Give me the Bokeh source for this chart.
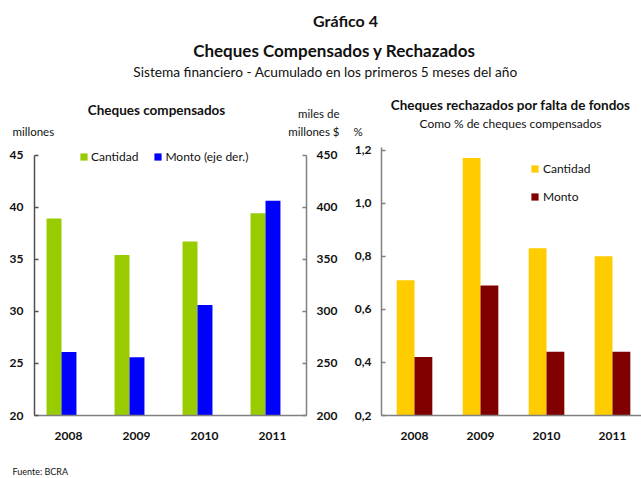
from bokeh.plotting import figure
from bokeh.models import Range1d, LinearAxis, Label, Legend, LegendItem, FixedTicker, ColumnDataSource
from bokeh.layouts import column, row
from bokeh.transform import dodge
from bokeh.embed import file_html
from bokeh.resources import INLINE

FONT = "Lato"

# ---- data ----
years = ["2008", "2009", "2010", "2011"]
cantidad_millones = [38.9, 35.4, 36.7, 39.4]        # left axis, millones
monto_miles_mill = [261, 256, 306, 406]             # right axis, miles de millones $
rech_cantidad_pct = [0.71, 1.17, 0.83, 0.80]
rech_monto_pct = [0.42, 0.69, 0.44, 0.44]

left_ticks = [20, 25, 30, 35, 40, 45]
right_ticks = [200, 250, 300, 350, 400, 450]
pct_ticks = [0.2, 0.4, 0.6, 0.8, 1.0, 1.2]

GREEN = "#99CC00"
BLUE = "#0000FF"
YELLOW = "#FFCC00"
MAROON = "#800000"
AXIS_DARK = "#505050"
AXIS_GRAY = "#808080"
TXT = "#111111"

xpos = [i + 0.5 for i in range(len(years))]
year_labels = {x: y for x, y in zip(xpos, years)}


def style_axis(ax, color, tick_in=4):
    ax.axis_line_color = color
    ax.axis_line_width = 1.5
    ax.major_tick_line_color = color
    ax.major_tick_line_width = 1.5
    ax.major_tick_in = tick_in
    ax.major_tick_out = 0
    ax.minor_tick_line_color = None
    ax.major_label_text_font = FONT
    ax.major_label_text_font_style = "bold"
    ax.major_label_text_font_size = "12px"
    ax.major_label_text_color = TXT


def base_fig(width, height, x_end, y_start, y_end, bl, br, bt, bb):
    p = figure(width=width, height=height, x_range=Range1d(0, x_end),
               y_range=Range1d(y_start, y_end), output_backend="svg",
               toolbar_location=None, min_border_left=bl, min_border_right=br,
               min_border_top=bt, min_border_bottom=bb)
    p.outline_line_color = None
    p.grid.visible = False
    p.background_fill_color = "white"
    p.border_fill_color = "white"
    return p


def text_fig(width, height):
    f = figure(width=width, height=height, x_range=Range1d(0, width),
               y_range=Range1d(height, 0), output_backend="svg",
               toolbar_location=None, min_border=0)
    f.axis.visible = False
    f.grid.visible = False
    f.outline_line_color = None
    return f


def put(f, x, y, text, size, bold=False, align="left"):
    f.add_layout(Label(x=x, y=y, text=text, text_font=FONT, text_font_size=size,
                       text_font_style="bold" if bold else "normal",
                       text_align=align, text_baseline="middle", text_color=TXT))

# ---- header (titles and unit labels) ----
HDR_H = 143
hdr = text_fig(641, HDR_H)
put(hdr, 345, 20, "Gráfico 4", "16px", True, "center")
put(hdr, 334, 50, "Cheques Compensados y Rechazados", "17px", True, "center")
put(hdr, 325, 71, "Sistema financiero - Acumulado en los primeros 5 meses del año", "13.7px", False, "center")
put(hdr, 156, 109, "Cheques compensados", "13.5px", True, "center")
put(hdr, 12, 131, "millones", "11.5px")
put(hdr, 339, 113, "miles de", "11.5px", align="right")
put(hdr, 339, 131, "millones $", "11.5px", align="right")
put(hdr, 353, 131, "%", "11.5px")
put(hdr, 510, 104, "Cheques rechazados por falta de fondos", "13.5px", True, "center")
put(hdr, 510, 123, "Como % de cheques compensados", "12px", False, "center")

ROW_H = 320
# ---- left panel: cheques compensados ----
p1_scale = 262.4 / 25.0
p1_fh = ROW_H - 46
p1 = base_fig(348, ROW_H, 4, 20, 20 + p1_fh / p1_scale, 34, 42, 0, 46)
p1.extra_y_ranges = {"monto": Range1d(200, 200 + 10 * p1_fh / p1_scale)}
src1 = ColumnDataSource(dict(x=xpos, cant=cantidad_millones, monto=monto_miles_mill))
# bar pair sits slightly left of the category centre, as in the original
r_c = p1.vbar(x=dodge("x", -0.213, range=p1.x_range), top="cant", bottom=20, width=0.22,
              source=src1, color=GREEN, line_color=None)
r_m = p1.vbar(x=dodge("x", 0.007, range=p1.x_range), top="monto", bottom=200, width=0.22,
              source=src1, color=BLUE, line_color=None, y_range_name="monto")

p1.yaxis.ticker = FixedTicker(ticks=left_ticks)
style_axis(p1.yaxis[0], AXIS_DARK)
p1.yaxis.major_label_standoff = 11
p1.yaxis.bounds = (20, 45)
rax = LinearAxis(y_range_name="monto", ticker=FixedTicker(ticks=right_ticks))
style_axis(rax, AXIS_GRAY)
rax.major_label_standoff = 10
rax.bounds = (200, 450)
p1.add_layout(rax, "right")
p1.xaxis.ticker = FixedTicker(ticks=xpos)
p1.xaxis.major_label_overrides = year_labels
style_axis(p1.xaxis[0], AXIS_GRAY, tick_in=0)
p1.xaxis.major_label_standoff = 16

leg1 = Legend(items=[LegendItem(label="Cantidad", renderers=[r_c]),
                     LegendItem(label="Monto (eje der.)", renderers=[r_m])],
              orientation="horizontal", location=(45, 251), padding=0, margin=0,
              spacing=15, glyph_width=9, glyph_height=9, label_standoff=3,
              label_text_font=FONT, label_text_font_size="12px", label_text_color=TXT,
              label_height=9, border_line_color=None, background_fill_alpha=0)
p1.add_layout(leg1, "center")

# ---- right panel: cheques rechazados ----
p2_scale = 265.4
p2_fh = ROW_H - 48
p2 = base_fig(293, ROW_H, 260 / 66, 0.2, 0.2 + p2_fh / p2_scale, 33, 0, 0, 48)
src2 = ColumnDataSource(dict(x=xpos, cant=rech_cantidad_pct, monto=rech_monto_pct))
r2c = p2.vbar(x=dodge("x", -0.135, range=p2.x_range), top="cant", bottom=0.2, width=0.27,
              source=src2, color=YELLOW, line_color=None)
r2m = p2.vbar(x=dodge("x", 0.135, range=p2.x_range), top="monto", bottom=0.2, width=0.27,
              source=src2, color=MAROON, line_color=None)
p2.yaxis.ticker = FixedTicker(ticks=pct_ticks)
p2.yaxis.major_label_overrides = {t: f"{t:.1f}".replace(".", ",") for t in pct_ticks}
style_axis(p2.yaxis[0], AXIS_GRAY)
p2.yaxis.major_label_standoff = 10
p2.yaxis.bounds = (0.2, 1.21)
p2.xaxis.ticker = FixedTicker(ticks=xpos)
p2.xaxis.major_label_overrides = year_labels
style_axis(p2.xaxis[0], AXIS_GRAY, tick_in=0)
p2.xaxis.major_label_standoff = 16

leg2 = Legend(items=[LegendItem(label="Cantidad", renderers=[r2c]),
                     LegendItem(label="Monto", renderers=[r2m])],
              orientation="vertical", location=(149, 211), padding=0, margin=0,
              spacing=13, glyph_width=9, glyph_height=9, label_standoff=4,
              label_text_font=FONT, label_text_font_size="12px", label_text_color=TXT,
              label_height=15, border_line_color=None, background_fill_alpha=0)
p2.add_layout(leg2, "center")

# ---- footer ----
ftr = text_fig(641, 15)
put(ftr, 12, 8, "Fuente: BCRA", "9px")

layout = column(hdr, row(p1, p2), ftr)
open("out.html", "w").write(file_html(layout, INLINE))
